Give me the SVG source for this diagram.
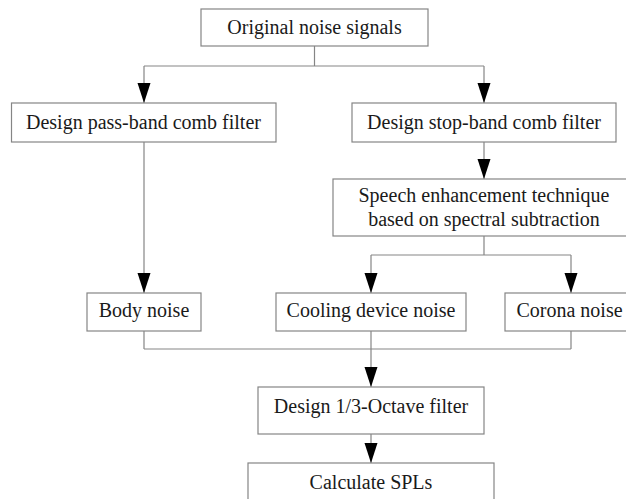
<svg xmlns="http://www.w3.org/2000/svg" width="626" height="499" viewBox="0 0 626 499">
  <style>
    .box { fill: #ffffff; stroke: #858585; stroke-width: 1.2; }
    .lbl { font-family: "Liberation Serif", "Times New Roman", serif; font-size: 20px; fill: #1a1a1a; text-anchor: middle; }
    .wire { fill: none; stroke: #858585; stroke-width: 1.2; }
    .flow { fill: none; stroke: #858585; stroke-width: 1.2; marker-end: url(#head); }
  </style>
  <defs>
    <marker id="head" viewBox="0 -7 20 14" markerUnits="userSpaceOnUse" markerWidth="20" markerHeight="14" refX="20" refY="0" orient="auto">
      <path d="M0,-6.5 L20,0 L0,6.5 Z" fill="#000000"/>
    </marker>
  </defs>
  <rect width="626" height="499" fill="#ffffff"/>

  <g id="connectors">
    <!-- split from the source -->
    <path class="wire" d="M314.5,46 V66 M144,66 H484"/>
    <path class="flow" d="M144,66 V103"/>
    <path class="flow" d="M484,66 V103"/>
    <!-- pass-band branch -->
    <path class="flow" d="M144,142 V293"/>
    <!-- stop-band branch -->
    <path class="flow" d="M484,142 V179"/>
    <path class="wire" d="M484,236 V255 M371,255 H571"/>
    <path class="flow" d="M371,255 V293"/>
    <path class="flow" d="M571,255 V293"/>
    <!-- merge -->
    <path class="wire" d="M144,331 V349 M571,331 V349 M144,349 H571"/>
    <path class="flow" d="M371,331 V387"/>
    <path class="flow" d="M371,434 V463"/>
  </g>

  <g id="original">
    <rect class="box" x="201" y="9" width="227" height="37"/>
    <text class="lbl" x="314.5" y="33.5">Original noise signals</text>
  </g>
  <g id="passband">
    <rect class="box" x="11.5" y="103" width="264.5" height="39"/>
    <text class="lbl" x="143.5" y="128.5">Design pass-band comb filter</text>
  </g>
  <g id="stopband">
    <rect class="box" x="352" y="103" width="264" height="39"/>
    <text class="lbl" x="484" y="128.5">Design stop-band comb filter</text>
  </g>
  <g id="speech">
    <rect class="box" x="333" y="179" width="302" height="57"/>
    <text class="lbl" x="484" y="202">Speech enhancement technique</text>
    <text class="lbl" x="484" y="225.5">based on spectral subtraction</text>
  </g>
  <g id="body">
    <rect class="box" x="87" y="293" width="114" height="38"/>
    <text class="lbl" x="144" y="317">Body noise</text>
  </g>
  <g id="cooling">
    <rect class="box" x="276" y="293" width="190" height="38"/>
    <text class="lbl" x="371" y="317">Cooling device noise</text>
  </g>
  <g id="corona">
    <rect class="box" x="505" y="293" width="132" height="38"/>
    <text class="lbl" x="569.5" y="317">Corona noise</text>
  </g>
  <g id="octave">
    <rect class="box" x="258" y="387" width="226" height="47"/>
    <text class="lbl" x="371" y="413">Design 1/3-Octave filter</text>
  </g>
  <g id="spl">
    <rect class="box" x="248" y="463" width="246" height="47"/>
    <text class="lbl" x="371" y="488.5">Calculate SPLs</text>
  </g>
</svg>
